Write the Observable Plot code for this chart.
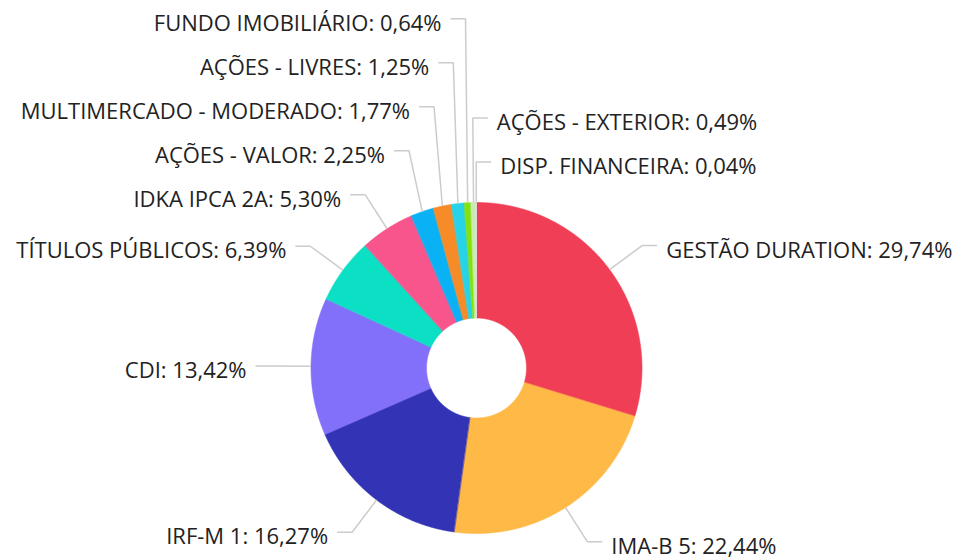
<!DOCTYPE html>
<html>
<head>
<meta charset="utf-8">
<script src="https://cdn.jsdelivr.net/npm/d3@7"></script>
<script src="https://cdn.jsdelivr.net/npm/@observablehq/plot@0.6"></script>
<style>
  html, body { margin: 0; padding: 0; background: #ffffff; }
  #chart { width: 956px; height: 558px; }
</style>
</head>
<body>
<div id="chart"></div>
<script>
// ---- data ----
const categories = [
  "GESTÃO DURATION", "IMA-B 5", "IRF-M 1", "CDI", "TÍTULOS PÚBLICOS",
  "IDKA IPCA 2A", "AÇÕES - VALOR", "MULTIMERCADO - MODERADO", "AÇÕES - LIVRES",
  "FUNDO IMOBILIÁRIO", "AÇÕES - EXTERIOR", "DISP. FINANCEIRA"
];
const values = [29.74, 22.44, 16.27, 13.42, 6.39, 5.30, 2.25, 1.77, 1.25, 0.64, 0.49, 0.04];
const colors = [
  "#ef3e55", "#ffb946", "#3333b5", "#8370fa", "#0be0c4",
  "#f8558d", "#0ab2f5", "#f78b27", "#27d3e6", "#86e00c", "#c6ecb4", "#e2e2e2"
];

// ---- layout constants (pixels) ----
const W = 956, H = 558;
const CX = 476, CY = 367.5, R = 165.5;      // pie centre and outer radius
const INNER = 50 / R;                        // hole radius (in radius units)
const LABEL_R = 206 / R;                     // radius of the label-line elbow
const LEN2 = 15 / R;                         // horizontal part of the leader line
const GAP = 44 / R;                          // minimum vertical distance between labels
const TOP_LIMIT = (CY - 12) / R;             // highest allowed label line (y up)

const fmt = v => v.toFixed(2).replace(".", ",") + "%";

const table = categories.map((c, i) => ({key: c, value: values[i]}));
const arcs = d3.pie().sort(null).value(d => d.value).startAngle(0).endAngle(2 * Math.PI)(table);

// slice polygons (angle measured clockwise from 12 o'clock, y pointing up)
const slicePts = [];
arcs.forEach(a => {
  const n = Math.max(2, Math.ceil((a.endAngle - a.startAngle) / 0.004));
  for (let i = 0; i <= n; i++) {
    const t = a.startAngle + (a.endAngle - a.startAngle) * i / n;
    slicePts.push({key: a.data.key, x: Math.sin(t), y: Math.cos(t)});
  }
  for (let i = n; i >= 0; i--) {
    const t = a.startAngle + (a.endAngle - a.startAngle) * i / n;
    slicePts.push({key: a.data.key, x: INNER * Math.sin(t), y: INNER * Math.cos(t)});
  }
});

// label layout
const rows = arcs.map(a => {
  const m = (a.startAngle + a.endAngle) / 2;
  return {
    key: a.data.key, value: a.data.value, m,
    ex: Math.sin(m), ey: Math.cos(m),
    nx: LABEL_R * Math.sin(m), ny: LABEL_R * Math.cos(m),
    label: a.data.key + ": " + fmt(a.data.value)
  };
});

// list ordered top -> bottom, y pointing up; returns true if the stack overflowed the top
function stack(list) {
  list.forEach(r => r.y = r.ny);
  for (let i = list.length - 2; i >= 0; i--) list[i].y = Math.max(list[i].y, list[i + 1].y + GAP);
  const overflow = list.length > 0 && list[0].y > TOP_LIMIT;
  if (overflow) {
    list[0].y = TOP_LIMIT;
    for (let i = 1; i < list.length; i++) list[i].y = Math.min(list[i].y, list[i - 1].y - GAP);
  }
  return overflow;
}

let left = rows.filter(r => Math.sin(r.m) < 0);
let right = rows.filter(r => Math.sin(r.m) >= 0);
const signed = r => (r.m > Math.PI ? r.m - 2 * Math.PI : r.m);
left.sort((a, b) => b.m - a.m);
for (let k = 0; k < rows.length && left.length > 1; k++) {
  if (!stack(left)) break;
  right.push(left.shift()); // the label nearest the top moves to the other side
}
right.sort((a, b) => signed(a) - signed(b));
left.sort((a, b) => b.m - a.m);
stack(left); stack(right);
left.forEach(r => { r.side = -1; });
right.forEach(r => { r.side = 1; });

const linePts = [];
rows.forEach(r => {
  r.tx = r.nx + r.side * LEN2;
  linePts.push({key: r.key, x: r.ex, y: r.ey});
  linePts.push({key: r.key, x: r.nx, y: r.y});
  linePts.push({key: r.key, x: r.tx, y: r.y});
});

const chart = Plot.plot({
  width: W,
  height: H,
  margin: 0,
  style: {background: "#ffffff", overflow: "visible"},
  x: {type: "linear", domain: [-CX / R, (W - CX) / R], range: [0, W], axis: null},
  y: {type: "linear", domain: [-(H - CY) / R, CY / R], range: [H, 0], axis: null},
  color: {domain: categories, range: colors},
  marks: [
    Plot.line(slicePts, {x: "x", y: "y", z: "key", fill: "key", stroke: "key", strokeWidth: 0.6, curve: "linear-closed"}),
    Plot.line(linePts, {x: "x", y: "y", z: "key", stroke: "#cccccc", strokeWidth: 1.5, strokeLinejoin: "miter", strokeLinecap: "butt"}),
    Plot.text(rows.filter(r => r.side < 0), {x: "tx", y: "y", text: "label", textAnchor: "end", dx: -9, dy: 5,
      fontSize: 22, fontFamily: "Open Sans", fill: "#222222"}),
    Plot.text(rows.filter(r => r.side > 0), {x: "tx", y: "y", text: "label", textAnchor: "start", dx: 9, dy: 5,
      fontSize: 22, fontFamily: "Open Sans", fill: "#222222"})
  ]
});
document.getElementById("chart").appendChild(chart);
</script>
</body>
</html>
